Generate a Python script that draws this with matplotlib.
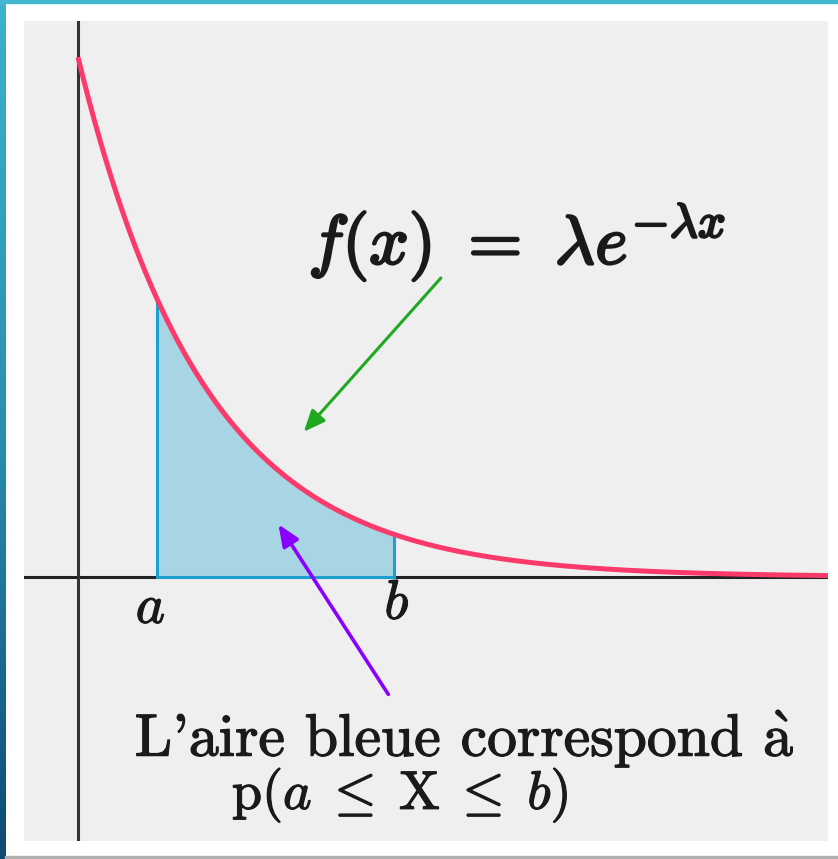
import numpy as np
import matplotlib
matplotlib.use("Agg")
import matplotlib.pyplot as plt
from matplotlib.patches import Rectangle
import matplotlib.patheffects as pe

plt.rcParams['mathtext.fontset'] = 'cm'

# --- donnees ---
lam = 1.25          # parametre lambda
a = 0.5             # borne a
b = 2.0             # borne b
x_min, x_max = -0.342, 4.75
y_min, y_max = -0.635, 1.337

green_arrow = [(2.31, 0.724), (1.418, 0.344)]    # (depart), (pointe)
purple_arrow = [(1.975, -0.288), (1.26, 0.132)]

W, H = 838, 859
fig = plt.figure(figsize=(W / 100, H / 100), dpi=100)
fig.patch.set_facecolor('white')

# bordure degradee a gauche + trait en haut/en bas
bord = fig.add_axes([0, 0, 5 / W, 1])
grad = np.linspace(0, 1, 256).reshape(-1, 1)
cmap = matplotlib.colors.LinearSegmentedColormap.from_list('b', ['#3cb2cc', '#2a8fb0', '#0f4a72'])
bord.imshow(grad, aspect='auto', cmap=cmap)
bord.axis('off')
fig.patches.append(Rectangle((0, 1 - 3 / H), 1, 3 / H, transform=fig.transFigure,
                             color='#45b8cf', zorder=5))
fig.patches.append(Rectangle((5 / W, 0), 1, 3 / H, transform=fig.transFigure,
                             color='#b0b0b0', zorder=5))

ax = fig.add_axes([24 / W, 18 / H, 804 / W, 820 / H])
ax.set_facecolor('#efefef')
ax.set_xlim(x_min, x_max)
ax.set_ylim(y_min, y_max)
for s in ax.spines.values():
    s.set_visible(False)
ax.set_xticks([])
ax.set_yticks([])

ax.axhline(0, color='#222222', lw=2.2, zorder=1)
ax.axvline(0, color='#333333', lw=2.2, zorder=1)

x = np.linspace(0, x_max, 400)
y = lam * np.exp(-lam * x)
xf = np.linspace(a, b, 200)
yf = lam * np.exp(-lam * xf)
ax.fill_between(xf, 0, yf, color='#a8d5e3', zorder=2, lw=0)
ax.plot([a, a], [0, lam * np.exp(-lam * a)], color='#1f9fd0', lw=2.2, zorder=3)
ax.plot([b, b], [0, lam * np.exp(-lam * b)], color='#1f9fd0', lw=2.2, zorder=3)
ax.plot([a, b], [0, 0], color='#1f9fd0', lw=2.2, zorder=3)
ax.plot(x, y, color='#fb3a6c', lw=3.6, zorder=4, solid_capstyle='butt')

ax.annotate('', xy=green_arrow[1], xytext=green_arrow[0],
            arrowprops=dict(arrowstyle='-|>,head_length=1.3,head_width=0.55',
                            color='#21a821', lw=2.2), zorder=5)
ax.annotate('', xy=purple_arrow[1], xytext=purple_arrow[0],
            arrowprops=dict(arrowstyle='-|>,head_length=1.3,head_width=0.55',
                            color='#8a00ff', lw=2.6), zorder=5)

gras = [pe.withStroke(linewidth=1.8, foreground='#1a1a1a')]
leger = [pe.withStroke(linewidth=0.9, foreground='#1a1a1a')]

ax.text(2.78, 0.805, r'$f(x)\ =\ \lambda e^{-\lambda x}$', fontsize=50,
        ha='center', va='center', color='#1a1a1a', path_effects=gras)
ax.text(a - 0.04, -0.01, r'$a$', fontsize=40, ha='center', va='top', color='#1a1a1a',
        path_effects=leger)
ax.text(b + 0.02, 0.0, r'$b$', fontsize=40, ha='center', va='top', color='#1a1a1a',
        path_effects=leger)
ax.text(0.36, -0.39, r"L'aire bleue correspond $\mathrm{\grave{a}}$", fontsize=43,
        family='cmr10', ha='left', va='center', color='#1a1a1a', path_effects=leger)
ax.text(0.975, -0.525, r'$\mathrm{p}(a\;\leq\;\mathrm{X}\;\leq\;b)$', fontsize=39,
        ha='left', va='center', color='#1a1a1a', path_effects=leger)

fig.savefig('out.png', dpi=100, facecolor='white')
